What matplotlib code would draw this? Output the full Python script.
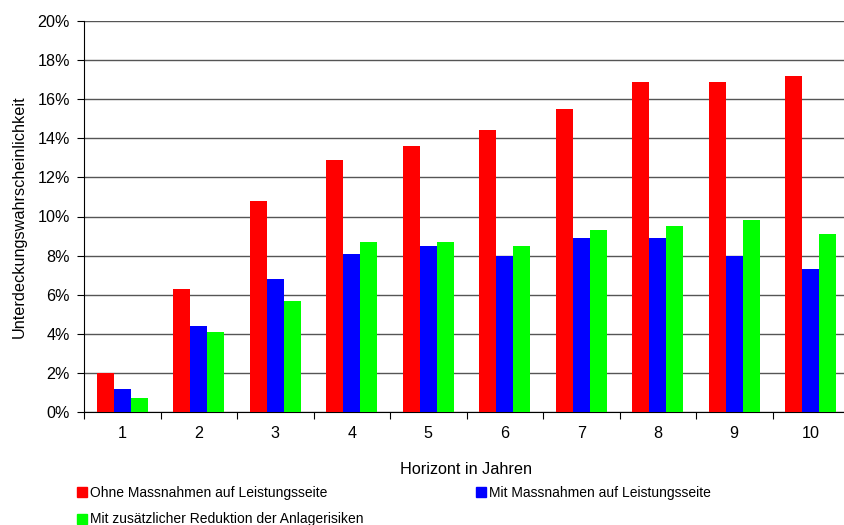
import numpy as np
import matplotlib.pyplot as plt
from matplotlib.patches import Patch
from matplotlib.ticker import FuncFormatter

plt.rcParams['font.family'] = ['Liberation Sans', 'DejaVu Sans']

# Horizont in Jahren
jahre = ['1', '2', '3', '4', '5', '6', '7', '8', '9', '10']
# Unterdeckungswahrscheinlichkeit in %
ohne_massnahmen = [2.0, 6.3, 10.8, 12.9, 13.6, 14.4, 15.5, 16.9, 16.9, 17.2]
mit_massnahmen = [1.2, 4.4, 6.8, 8.1, 8.5, 8.0, 8.9, 8.9, 8.0, 7.3]
mit_reduktion = [0.7, 4.1, 5.7, 8.7, 8.7, 8.5, 9.3, 9.5, 9.8, 9.1]

serien = ['Ohne Massnahmen auf Leistungsseite',
          'Mit Massnahmen auf Leistungsseite',
          'Mit zusätzlicher Reduktion der Anlagerisiken']
farben = ['#ff0000', '#0000ff', '#00ff00']

fig = plt.figure(figsize=(8.44, 5.25), dpi=100)
ax = fig.add_axes([84 / 844, 1 - 412 / 525, 765 / 844, 391 / 525])

x = np.arange(len(jahre))
w = 0.222
for i, (werte, farbe) in enumerate(zip([ohne_massnahmen, mit_massnahmen, mit_reduktion], farben)):
    ax.bar(x + (i - 1) * w, werte, width=w, color=farbe, zorder=3)

ax.set_xlim(-0.5, len(jahre) - 0.5)
ax.set_ylim(0, 20)
ax.set_yticks(np.arange(0, 21, 2))
ax.yaxis.set_major_formatter(FuncFormatter(lambda v, p: f'{v:.0f}%'))
ax.grid(axis='y', color='#555555', linewidth=1, zorder=0)

# Teilstriche zwischen den Kategorien, Beschriftung in der Mitte
ax.set_xticks(np.arange(-0.5, len(jahre), 1))
ax.set_xticklabels([])
ax.set_xticks(x, minor=True)
ax.set_xticklabels(jahre, minor=True)
ax.tick_params(which='both', labelsize=11.6)
ax.tick_params(axis='x', which='major', length=5, direction='out', color='black')
ax.tick_params(axis='x', which='minor', length=0, pad=10)
ax.tick_params(axis='y', length=5, direction='out', pad=5)

for s in ['top', 'right']:
    ax.spines[s].set_visible(False)
ax.spines['left'].set_color('black')
ax.spines['bottom'].set_color('black')

ax.set_ylabel('Unterdeckungswahrscheinlichkeit', fontsize=11.7, labelpad=8)
ax.set_xlabel('Horizont in Jahren', fontsize=11.7, labelpad=15)

handles = [Patch(color=c, label=l) for c, l in zip(farben, serien)]
leg_kw = dict(loc='upper left', frameon=False, fontsize=10.0, handlelength=0.75,
              handleheight=0.75, handletextpad=0.15, labelspacing=0.9,
              borderaxespad=0, borderpad=0)
fig.legend(handles=[handles[0], handles[2]], bbox_to_anchor=(77 / 844, 1 - 486 / 525), **leg_kw)
fig.legend(handles=[handles[1]], bbox_to_anchor=(476 / 844, 1 - 486 / 525), **leg_kw)

plt.savefig('out.png', dpi=100)
